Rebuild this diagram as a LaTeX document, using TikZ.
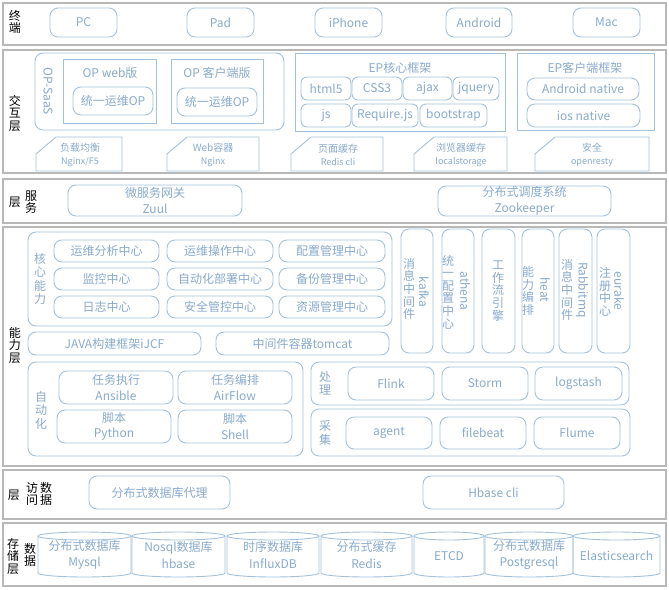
\documentclass[tikz,border=0pt]{standalone}
\usepackage{fontspec}
\setmainfont{Noto Sans CJK SC}
\definecolor{laygray}{HTML}{B8B8B8}
\definecolor{boxblue}{HTML}{A3C1DA}
\definecolor{txtblue}{HTML}{88AACB}
\begin{document}
\begin{tikzpicture}[x=1pt,y=-1pt,
    corners/.style args={#1,#2,#3,#4}{minimum width=#3-#1, minimum height=#4-#2, at={({(#1+#3)/2},{(#2+#4)/2})}},
    layer/.style={draw=laygray,line width=1.5pt,inner sep=0pt},
    sbox/.style={draw=boxblue,line width=0.9pt,inner sep=0pt,text=txtblue,align=center,font=\fontsize{12}{15.5}\selectfont},
    rbox/.style={sbox,rounded corners=6pt},
    tab/.style={draw=boxblue,line width=0.9pt},
    tabtxt/.style={text=txtblue,align=center,inner sep=0pt,font=\fontsize{10}{13.5}\selectfont},
    side/.style={text=txtblue,align=center,inner sep=0pt,font=\fontsize{12}{12.6}\selectfont},
    cyltxt/.style={text=txtblue,align=center,inner sep=0pt,font=\fontsize{12}{16.5}\selectfont},
    lbl/.style={align=center,inner sep=0pt,font=\fontsize{12}{12.5}\selectfont},
    cyl/.style={draw=boxblue,line width=0.9pt}]
\useasboundingbox (0,0) rectangle (669,589);

% layers
\node[layer, corners={3,3,666,45}] (term) {};
\node[layer, corners={3,50,666,173}] (inter) {};
\node[layer, corners={3,179,666,223}] (serv) {};
\node[layer, corners={3,227,666,466}] (abil) {};
\node[layer, corners={3,470,666,519}] (acc) {};
\node[layer, corners={3,523,666,586}] (stor) {};

\node[lbl] (lterm) at (15,22) {终\\端};
\node[lbl] (linter) at (15,113) {交\\互\\层};
\node[lbl] (lserv1) at (15,202) {层};
\node[lbl] (lserv2) at (31,202) {服\\务};
\node[lbl] (labil) at (15,345) {能\\力\\层};
\node[lbl] (lacc1) at (14,495) {层};
\node[lbl] (lacc2) at (32,494) {访\\问};
\node[lbl] (lacc3) at (46,494) {数\\据};
\node[lbl] (lstor1) at (13,556) {存\\储\\层};
\node[lbl] (lstor2) at (30,555) {数\\据};

% terminals
\node[rbox, rounded corners=8pt, corners={50,8,117,37}] (pc) {PC};
\node[rbox, rounded corners=8pt, corners={187,8,254,37}] (pad) {Pad};
\node[rbox, rounded corners=8pt, corners={315,8,382,37}] (iphone) {iPhone};
\node[rbox, rounded corners=8pt, corners={446,8,512,37}] (android) {Android};
\node[rbox, rounded corners=8pt, corners={573,8,640,37}] (mac) {Mac};

% interaction
\node[rbox, rounded corners=8pt, corners={35,53,284,130}] (opsaas) {};
\node[side, rotate=-90] (lopsaas) at (48,91) {OP-SaaS};
\node[sbox, corners={63,59,156,123}] (opweb) {};
\node[side] (topweb) at (110,73) {OP web版};
\node[rbox, rounded corners=8pt, corners={73,87,153,115}] (opwebu) {统一运维OP};
\node[sbox, corners={171,59,263,123}] (opcli) {};
\node[side] (topcli) at (217,73) {OP 客户端版};
\node[rbox, rounded corners=8pt, corners={177,88,257,116}] (opcliu) {统一运维OP};

\node[sbox, corners={295,53,505,131}] (epcore) {};
\node[side] (tepcore) at (400,68) {EP核心框架};
\node[rbox, corners={301,77,351,100}] (html) {html5};
\node[rbox, corners={352,77,402,100}] (css) {CSS3};
\node[rbox, corners={403,77,452,100}] (ajax) {ajax};
\node[rbox, corners={453,77,499,100}] (jquery) {jquery};
\node[rbox, corners={301,104,351,127}] (js) {js};
\node[rbox, corners={352,104,418,127}] (require) {Require.js};
\node[rbox, corners={420,104,487,127}] (bootstrap) {bootstrap};

\node[sbox, corners={517,53,654,130}] (epcli) {};
\node[side] (tepcli) at (585,68) {EP客户端框架};
\node[rbox, rounded corners=8pt, corners={527,78,639,100}] (andnat) {Android native};
\node[rbox, rounded corners=8pt, corners={527,104,640,127}] (iosnat) {ios native};

\draw[tab] (36,171) -- (36,154) -- (56,137) -- (122,137) -- (122,171) -- cycle;
\draw[tab] (167,171) -- (167,154) -- (187,137) -- (259,137) -- (259,171) -- cycle;
\draw[tab] (291,171) -- (291,154) -- (311,137) -- (383,137) -- (383,171) -- cycle;
\draw[tab] (414,171) -- (414,154) -- (434,137) -- (507,137) -- (507,171) -- cycle;
\draw[tab] (535,171) -- (535,154) -- (555,137) -- (649,137) -- (649,171) -- cycle;
\node[tabtxt] (lb) at (80,155) {负载均衡\\\fontsize{9}{13.5}\selectfont Nginx/F5};
\node[tabtxt] (web) at (213,155) {Web容器\\\fontsize{9}{13.5}\selectfont Nginx};
\node[tabtxt] (page) at (338,155) {页面缓存\\\fontsize{9}{13.5}\selectfont Redis cli};
\node[tabtxt] (local) at (461,155) {浏览器缓存\\\fontsize{9}{13.5}\selectfont localstorage};
\node[tabtxt] (safe) at (592,155) {安全\\\fontsize{9}{13.5}\selectfont openresty};

% services
\node[rbox, rounded corners=8pt, corners={68,185,242,216}] (zuul) {微服务网关\\Zuul};
\node[rbox, rounded corners=8pt, corners={438,186,611,216}] (zk) {分布式调度系统\\Zookeeper};

% abilities
\node[rbox, rounded corners=8pt, corners={28,232,392,326}] (core) {};
\node[side, font=\fontsize{12}{13.5}\selectfont] (lcore) at (40,279) {核\\心\\能\\力};
\node[rbox, rounded corners=8pt, corners={54,240,159,262}] (c11) {运维分析中心};
\node[rbox, rounded corners=8pt, corners={167,240,273,262}] (c12) {运维操作中心};
\node[rbox, rounded corners=8pt, corners={279,240,385,262}] (c13) {配置管理中心};
\node[rbox, rounded corners=8pt, corners={54,268,159,290}] (c21) {监控中心};
\node[rbox, rounded corners=8pt, corners={167,268,273,290}] (c22) {自动化部署中心};
\node[rbox, rounded corners=8pt, corners={279,268,385,290}] (c23) {备份管理中心};
\node[rbox, rounded corners=8pt, corners={54,296,159,318}] (c31) {日志中心};
\node[rbox, rounded corners=8pt, corners={167,296,273,318}] (c32) {安全管控中心};
\node[rbox, rounded corners=8pt, corners={279,296,385,318}] (c33) {资源管理中心};
\node[rbox, rounded corners=8pt, corners={28,332,201,355}] (ijcf) {JAVA构建框架iJCF};
\node[rbox, rounded corners=8pt, corners={216,332,389,355}] (tomcat) {中间件容器tomcat};

\node[rbox, rounded corners=8pt, corners={401,229,433,353}] (kafka) {};
\node[side] (zkafka) at (409,289) {消\\息\\中\\间\\件};
\node[side, rotate=-90] (ekafka) at (424,292) {kafka};
\node[rbox, rounded corners=8pt, corners={442,229,474,353}] (athena) {};
\node[side] (zathena) at (448,292) {统\\一\\配\\置\\中\\心};
\node[side, rotate=-90] (eathena) at (465,291) {athena};
\node[rbox, rounded corners=8pt, corners={482,229,515,353}] (flow) {};
\node[side] (zflow) at (498,291) {工\\作\\流\\引\\擎};
\node[rbox, rounded corners=8pt, corners={522,229,554,353}] (heat) {};
\node[side] (zheat) at (528,291) {能\\力\\编\\排};
\node[side, rotate=-90] (eheat) at (545,290) {heat};
\node[rbox, rounded corners=8pt, corners={559,229,592,353}] (rabbit) {};
\node[side] (zrabbit) at (567,290) {消\\息\\中\\间\\件};
\node[side, rotate=-90] (erabbit) at (582,290) {Rabbitmq};
\node[rbox, rounded corners=8pt, corners={597,229,630,353}] (eurake) {};
\node[side] (zeurake) at (605,292) {注\\册\\中\\心};
\node[side, rotate=-90] (eeurake) at (619,291) {eurake};

\node[rbox, rounded corners=8pt, corners={28,362,303,456}] (auto) {};
\node[side, font=\fontsize{12}{13.5}\selectfont] (lauto) at (41,410) {自\\动\\化};
\node[rbox, rounded corners=8pt, corners={59,371,173,404}] (ansible) {任务执行\\Ansible};
\node[rbox, rounded corners=8pt, corners={178,371,292,404}] (airflow) {任务编排\\AirFlow};
\node[rbox, rounded corners=8pt, corners={57,410,171,443}] (python) {脚本\\Python};
\node[rbox, rounded corners=8pt, corners={178,410,292,443}] (shell) {脚本\\Shell};

\node[rbox, rounded corners=8pt, corners={311,362,629,405}] (proc) {};
\node[side, font=\fontsize{12}{13.5}\selectfont] (lproc) at (325,383) {处\\理};
\node[rbox, rounded corners=8pt, corners={348,367,434,400}] (flink) {Flink};
\node[rbox, rounded corners=8pt, corners={442,367,528,400}] (storm) {Storm};
\node[rbox, rounded corners=8pt, corners={535,367,622,400}] (logstash) {logstash};
\node[rbox, rounded corners=8pt, corners={311,409,630,456}] (coll) {};
\node[side, font=\fontsize{12}{13.5}\selectfont] (lcoll) at (325,433) {采\\集};
\node[rbox, rounded corners=8pt, corners={346,417,432,449}] (agent) {agent};
\node[rbox, rounded corners=8pt, corners={440,417,526,449}] (filebeat) {filebeat};
\node[rbox, rounded corners=8pt, corners={534,417,620,449}] (flume) {Flume};

% data access
\node[rbox, rounded corners=8pt, corners={89,476,230,509}] (proxy) {分布式数据库代理};
\node[rbox, rounded corners=8pt, corners={423,476,564,509}] (hbcli) {Hbase cli};

% data storage
\foreach \xa/\xb in {38/131,132/225,227/319,321/412,414/484,485/573,573/660}{
    \draw[cyl] (\xa,536) -- (\xa,573) arc[start angle=180,end angle=360,x radius={(\xb-\xa)/2*1pt},y radius=4pt] -- (\xb,536);
    \draw[cyl] ({(\xa+\xb)/2},536) ellipse[x radius={(\xb-\xa)/2*1pt},y radius=4pt];
}
\node[cyltxt] (mysql) at (84.5,555) {分布式数据库\\Mysql};
\node[cyltxt] (hbase) at (178.5,555) {Nosql数据库\\hbase};
\node[cyltxt] (influx) at (273,555) {时序数据库\\InfluxDB};
\node[cyltxt] (redis) at (366.5,555) {分布式缓存\\Redis};
\node[cyltxt] (etcd) at (449,556) {ETCD};
\node[cyltxt] (pg) at (529,555) {分布式数据库\\Postgresql};
\node[cyltxt] (es) at (616.5,556) {Elasticsearch};
\end{tikzpicture}
\end{document}
